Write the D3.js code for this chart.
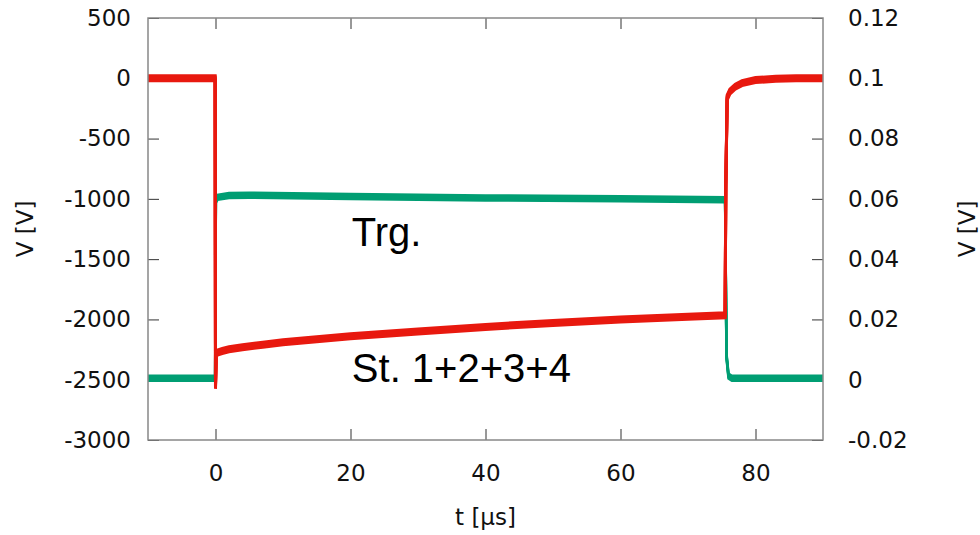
<!DOCTYPE html>
<html>
<head>
<meta charset="utf-8">
<script src="https://cdn.jsdelivr.net/npm/d3@7"></script>
<style>
  body { margin: 0; background: #fff; }
</style>
</head>
<body>
<script>
// time axis ticks and value ticks
var tTicks = [0, 20, 40, 60, 80];
var vTicks = [500, 0, -500, -1000, -1500, -2000, -2500, -3000];
var v2Ticks = [0.12, 0.1, 0.08, 0.06, 0.04, 0.02, 0, -0.02];

// St. 1+2+3+4 trace (left axis, V)
var stT = [-10, -0.05, 0, 0.1, 0.3, 1, 2, 4, 7, 10, 20, 30, 40, 50, 60, 70, 75.5, 75.6, 75.8, 76.2, 77, 78, 80, 83, 86, 90];
var stV = [0, 0, -2555, -2290, -2275, -2262, -2248, -2230, -2210, -2190, -2140, -2100, -2062, -2030, -2000, -1978, -1966, -900, -160, -110, -70, -40, -15, -4, 0, 0];

// Trg. trace (right axis, V)
var trgT = [-10, -0.05, 0.05, 0.3, 2, 5, 20, 40, 60, 75.5, 75.7, 76, 76.5, 90];
var trgV = [0.0005, 0.0005, 0.0595, 0.0605, 0.0611, 0.0612, 0.0608, 0.0603, 0.0600, 0.0597, 0.008, 0.0012, 0.0005, 0.0005];

var width = 980, height = 535;
var pLeft = 148, pRight = 823, pTop = 18, pBottom = 440;

var svg = d3.select("body").append("svg")
    .attr("width", width)
    .attr("height", height)
    .style("font-family", "'DejaVu Sans', sans-serif");

var x = d3.scaleLinear().domain([-10, 90]).range([pLeft, pRight]);
var y = d3.scaleLinear().domain([-3000, 500]).range([pBottom, pTop]);
var y2 = d3.scaleLinear().domain([-0.02, 0.12]).range([pBottom, pTop]);

//axes, ticks pointing inwards like gnuplot
var tickLen = 11;

var gx = svg.append("g")
    .attr("transform", "translate(0," + pBottom + ")")
    .call(d3.axisBottom(x).tickValues(tTicks).tickSize(-tickLen).tickPadding(25));

var gxTop = svg.append("g")
    .attr("transform", "translate(0," + pTop + ")")
    .call(d3.axisTop(x).tickValues(tTicks).tickSize(-tickLen).tickFormat(""));

var gy = svg.append("g")
    .attr("transform", "translate(" + pLeft + ",0)")
    .call(d3.axisLeft(y).tickValues(vTicks).tickSize(-tickLen).tickPadding(17)
        .tickFormat(function(d) { return String(d); }));

var gy2 = svg.append("g")
    .attr("transform", "translate(" + pRight + ",0)")
    .call(d3.axisRight(y2).tickValues(v2Ticks).tickSize(-tickLen).tickPadding(25)
        .tickFormat(function(d) { return String(d); }));

[gx, gxTop, gy, gy2].forEach(function(g) {
    g.select(".domain").remove();
    g.selectAll(".tick line").attr("stroke", "#333").attr("stroke-width", 1);
    g.selectAll(".tick text")
        .attr("fill", "#111")
        .style("font-size", "23px")
        .style("font-family", "'DejaVu Sans', sans-serif");
});

//traces, drawn as a few stacked strokes so the noisy band looks thick
var offsets = [-2.5, -1.25, 0, 1.25, 2.5];

var trgLine = d3.line()
    .x(function(d, i) { return x(trgT[i]); })
    .y(function(d) { return y2(d); });

var stLine = d3.line()
    .x(function(d, i) { return x(stT[i]); })
    .y(function(d) { return y(d); });

svg.append("clipPath").attr("id", "plot")
    .append("rect")
    .attr("x", pLeft).attr("y", pTop)
    .attr("width", pRight - pLeft).attr("height", pBottom - pTop);

var plot = svg.append("g").attr("clip-path", "url(#plot)");

plot.selectAll(".trg")
    .data(offsets)
    .enter().append("path")
    .attr("class", "trg")
    .attr("d", trgLine(trgV))
    .attr("transform", function(o) { return "translate(0," + o + ")"; })
    .attr("fill", "none")
    .attr("stroke", "#009e73")
    .attr("stroke-width", 2.5);

plot.selectAll(".st")
    .data(offsets)
    .enter().append("path")
    .attr("class", "st")
    .attr("d", stLine(stV))
    .attr("transform", function(o) { return "translate(0," + o + ")"; })
    .attr("fill", "none")
    .attr("stroke", "#e8190f")
    .attr("stroke-width", 3);

//border box
svg.append("rect")
    .attr("x", pLeft).attr("y", pTop)
    .attr("width", pRight - pLeft).attr("height", pBottom - pTop)
    .attr("fill", "none")
    .attr("stroke", "#888")
    .attr("stroke-width", 1.5);

//axis titles
svg.append("text")
    .attr("transform", "translate(33," + ((pTop + pBottom) / 2) + ") rotate(-90)")
    .attr("text-anchor", "middle")
    .style("font-size", "23px")
    .attr("fill", "#111")
    .text("V [V]");

svg.append("text")
    .attr("transform", "translate(975," + ((pTop + pBottom) / 2) + ") rotate(-90)")
    .attr("text-anchor", "middle")
    .style("font-size", "23px")
    .attr("fill", "#111")
    .text("V [V]");

svg.append("text")
    .attr("x", (pLeft + pRight) / 2)
    .attr("y", 525)
    .attr("text-anchor", "middle")
    .style("font-size", "23px")
    .attr("fill", "#111")
    .text("t [μs]");

//trace labels
svg.append("text")
    .attr("x", x(20.2))
    .attr("y", y(-1390))
    .style("font-family", "'Liberation Sans', Arial, sans-serif")
    .style("font-size", "40px")
    .attr("fill", "#000")
    .text("Trg.");

svg.append("text")
    .attr("x", x(20.2))
    .attr("y", y(-2520))
    .style("font-family", "'Liberation Sans', Arial, sans-serif")
    .style("font-size", "40px")
    .attr("fill", "#000")
    .text("St. 1+2+3+4");
</script>
</body>
</html>
